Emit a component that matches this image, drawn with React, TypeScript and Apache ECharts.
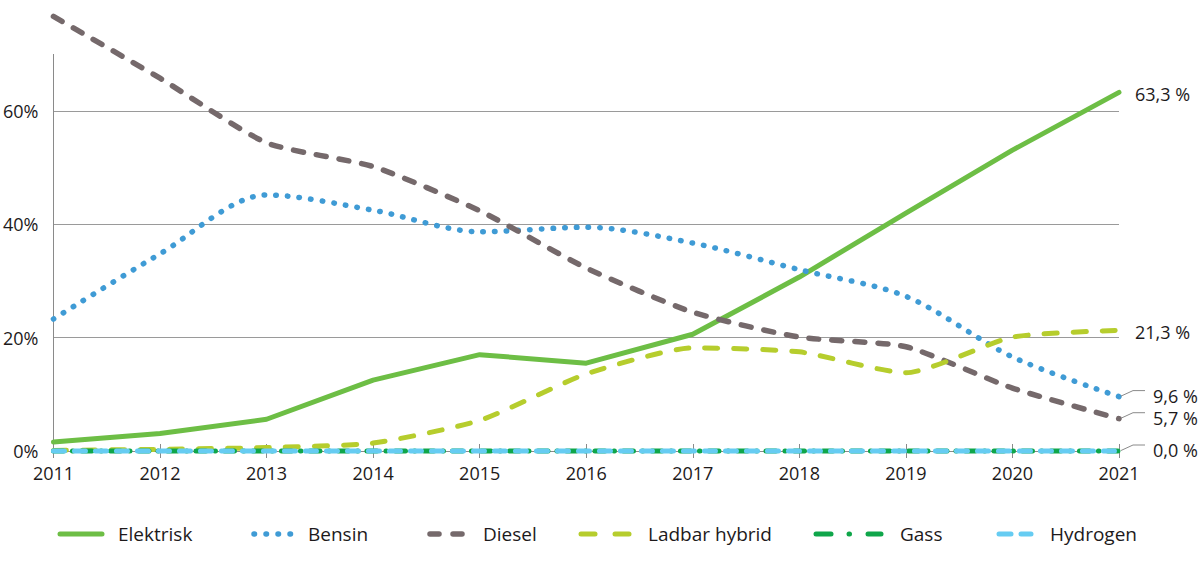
import React, { useEffect, useRef } from "react";
import * as echarts from "echarts";

const years = ["2011", "2012", "2013", "2014", "2015", "2016", "2017", "2018", "2019", "2020", "2021"];
const elektrisk = [1.6, 3.1, 5.6, 12.5, 17.0, 15.5, 20.6, 30.7, 42.0, 53.1, 63.3];
const bensin = [23.3, 34.8, 45.2, 42.5, 38.7, 39.5, 36.7, 32.0, 27.3, 16.6, 9.6];
const diesel = [76.7, 65.8, 54.4, 50.2, 42.4, 32.3, 24.5, 20.1, 18.4, 11.1, 5.7];
const ladbar = [0.1, 0.3, 0.6, 1.4, 5.4, 13.6, 18.2, 17.5, 13.8, 20.1, 21.3];
const gass = [0, 0, 0, 0, 0, 0, 0, 0, 0, 0, 0];
const hydrogen = [0, 0, 0, 0, 0, 0, 0, 0, 0, 0, 0];
const seriesNames = ["Elektrisk", "Bensin", "Diesel", "Ladbar hybrid", "Gass", "Hydrogen"];
const endLabels = ["63,3 %", "9,6 %", "5,7 %", "21,3 %", "0,0 %", "0,0 %"];
const yTicks = [0, 20, 40, 60];

const FONT = "'Open Sans', sans-serif";
const TEXT = "#1d1a1b";

const styles = [
  { color: "#6dbe45", width: 5, type: "solid" as any, smooth: 0 },
  { color: "#3f9bd5", width: 5.5, type: [0.5, 11.2], smooth: 0.3 },
  { color: "#75696b", width: 5.5, type: [10, 13], smooth: 0.2 },
  { color: "#b6cd2d", width: 5, type: [13, 16], smooth: 0.2 },
  { color: "#0fa64a", width: 5, type: [10, 9, 0.5, 9], smooth: 0 },
  { color: "#66ccf2", width: 5, type: [11, 10], smooth: 0 },
];
const dataSets = [elektrisk, bensin, diesel, ladbar, gass, hydrogen];

// legend icon segments [x1, x2] and text x
const legendSegs: number[][][] = [
  [[60, 102]],
  [[254, 254.5], [266, 266.5], [278, 278.5], [290, 290.5]],
  [[430, 439], [453, 462]],
  [[581, 595], [615, 629]],
  [[816, 831], [849, 849.5], [868, 881]],
  [[999, 1011], [1021, 1031]],
];
const legendTextX = [118, 308, 483, 648, 900, 1050];

export default function App() {
  const ref = useRef<HTMLDivElement>(null);
  useEffect(() => {
    const chart = echarts.init(ref.current!, null, { renderer: "svg" });
    chart.setOption({
      animation: false,
      grid: { left: 53, right: 81, top: 54.4, bottom: 110, containLabel: false },
      xAxis: [
        {
          type: "category",
          data: years,
          boundaryGap: false,
          axisLine: { show: true, lineStyle: { color: "#8a8a8a", width: 1 } },
          axisTick: { show: true, length: 7, lineStyle: { color: "#8a8a8a" } },
          axisLabel: { color: TEXT, fontFamily: FONT, fontSize: 18, margin: 13 },
          splitLine: { show: false },
        },
        {
          type: "category",
          data: years,
          boundaryGap: false,
          position: "bottom",
          axisLine: { show: false },
          axisTick: { show: true, inside: true, length: 7, lineStyle: { color: "#8a8a8a" } },
          axisLabel: { show: false },
          splitLine: { show: false },
        },
      ],
      yAxis: {
        type: "value",
        min: 0,
        max: 70,
        interval: 20,
        axisLine: { show: true, lineStyle: { color: "#8a8a8a", width: 1 } },
        axisTick: { show: false },
        axisLabel: {
          color: TEXT,
          fontFamily: FONT,
          fontSize: 18,
          margin: 15,
          showMaxLabel: false,
          formatter: (v: number) => (yTicks.indexOf(v) >= 0 ? v + "%" : ""),
        },
        splitLine: { show: true, showMinLine: false, showMaxLine: false, lineStyle: { color: "#9a9a9a", width: 1 } },
      },
      series: dataSets.map((d, i) => ({
        name: seriesNames[i],
        type: "line",
        data: d,
        symbol: "none",
        clip: false,
        smooth: styles[i].smooth,
        lineStyle: { color: styles[i].color, width: styles[i].width, type: styles[i].type, cap: "round", join: "round" },
        z: 2 + i,
      })),
    });

    const last = years.length - 1;
    const graphics: any[] = [];
    // legend
    seriesNames.forEach((name, i) => {
      const st = styles[i];
      legendSegs[i].forEach(([x1, x2]) => {
        graphics.push({
          type: "line",
          shape: { x1, y1: 534, x2, y2: 534 },
          style: { stroke: st.color, lineWidth: st.width, lineCap: "round" },
        });
      });
      graphics.push({
        type: "text",
        x: legendTextX[i],
        y: 534,
        style: { text: name, fill: TEXT, font: `19px ${FONT}`, textVerticalAlign: "middle", textAlign: "left" },
      });
    });
    // end labels
    const endIdx = [0, 1, 2, 3, 5];
    endIdx.forEach((si) => {
      const p = chart.convertToPixel({ xAxisIndex: 0, yAxisIndex: 0 }, [last, dataSets[si][last]]) as number[];
      const lbl = endLabels[si];
      if (si === 0 || si === 3) {
        graphics.push({
          type: "text",
          x: p[0] + 16,
          y: p[1] + 2,
          style: { text: lbl, fill: TEXT, font: `18px ${FONT}`, textVerticalAlign: "middle", textAlign: "left" },
        });
      } else {
        graphics.push({
          type: "polyline",
          shape: { points: [[p[0] + 2, p[1] - 0.5], [p[0] + 14, p[1] - 6], [p[0] + 26, p[1] - 6]] },
          style: { stroke: "#8a8a8a", lineWidth: 1, fill: null },
          z: 10,
        });
        graphics.push({
          type: "text",
          x: p[0] + 34,
          y: p[1] - 1,
          style: { text: lbl, fill: TEXT, font: `18px ${FONT}`, textVerticalAlign: "middle", textAlign: "left" },
        });
      }
    });
    chart.setOption({ graphic: graphics });
    return () => chart.dispose();
  }, []);
  return <div ref={ref} style={{ position: "fixed", left: 0, top: 0, width: 1200, height: 561, background: "#fff" }} />;
}
